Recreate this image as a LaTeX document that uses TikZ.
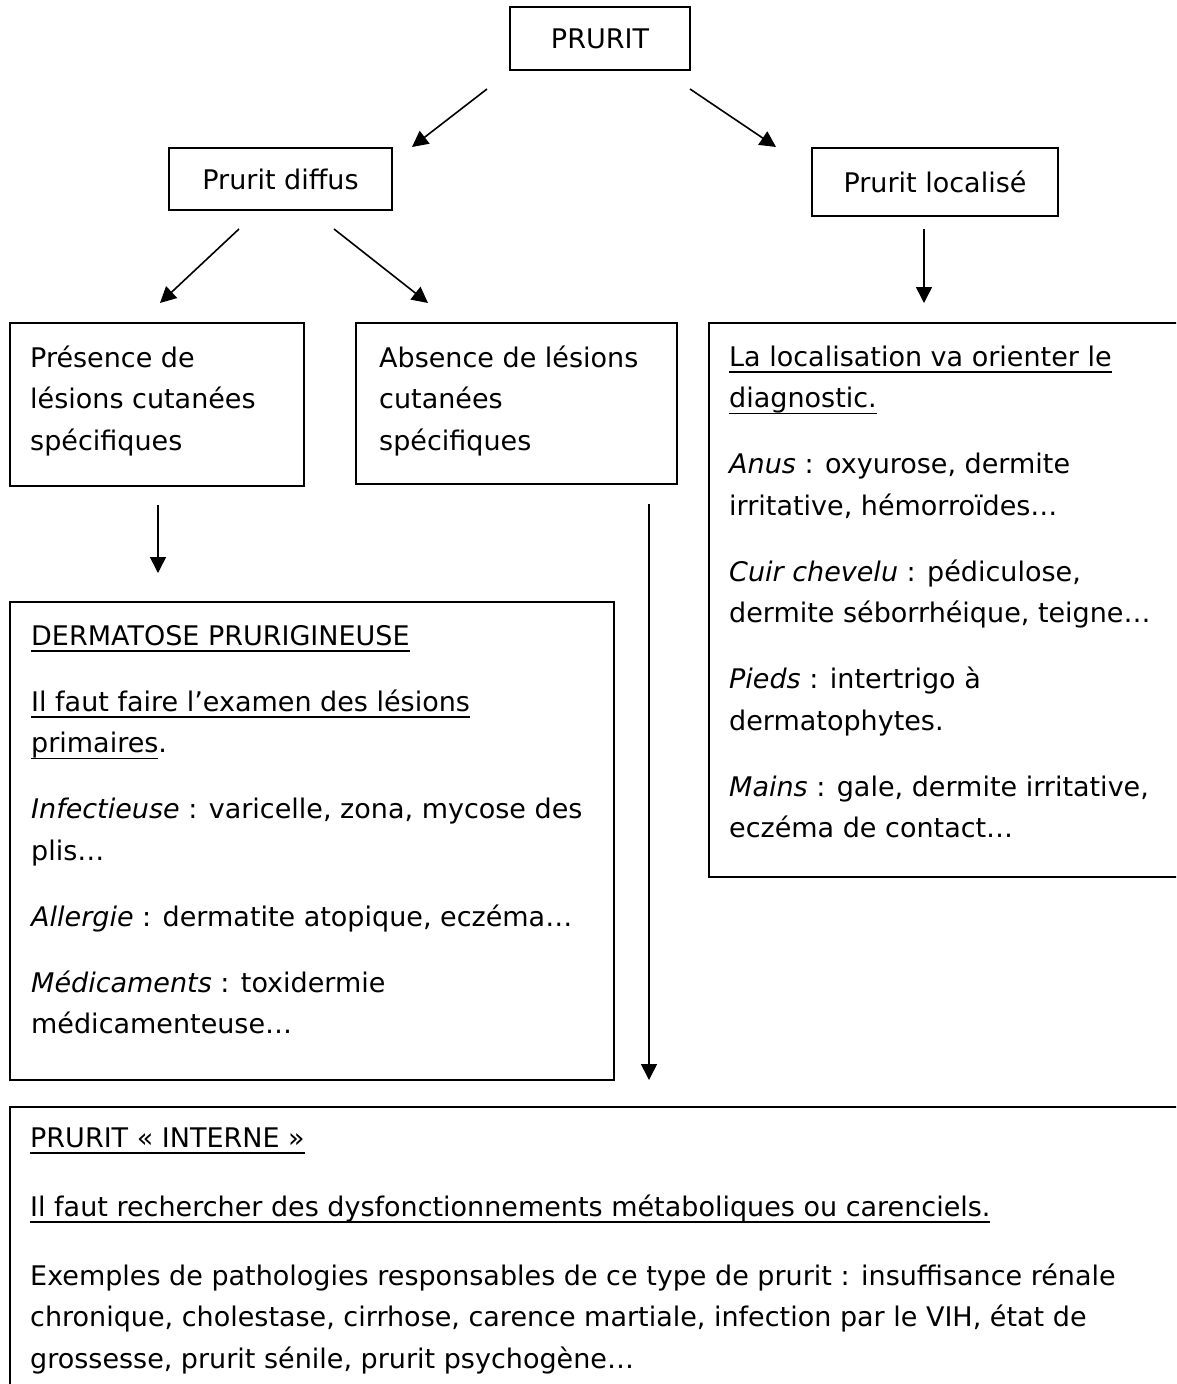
\documentclass[tikz,border=0pt]{standalone}
\usepackage{fontspec}
\setmainfont{DejaVu Sans}
\usetikzlibrary{arrows.meta}
\newsavebox{\myulbox}
\newcommand{\myul}[1]{\leavevmode\sbox{\myulbox}{#1}\rlap{\rule[-6.8pt]{\wd\myulbox}{1.8pt}}\usebox{\myulbox}}
\newcommand{\boxtext}[3]{\parbox[t]{#1}{\fontsize{27}{41.5}\selectfont\raggedright\setlength{\parskip}{#2}#3}}
\tikzset{
  framebox/.style={draw, line width=1.6pt, inner sep=0pt, font=\fontsize{27}{41.5}\selectfont},
  arr/.style={line width=1.6pt, -{Triangle[length=16pt,width=16pt]}},
  txt/.style={inner sep=0pt, anchor=base west}
}
\begin{document}
\begin{tikzpicture}[x=1pt,y=-1pt]
\clip (0,0) rectangle (1176,1384);
\fill[white] (0,0) rectangle (1176,1384);
% single-line boxes
\node[framebox, minimum width=180pt, minimum height=63pt] (prurit) at (600,38.5) {PRURIT};
\node[framebox, minimum width=223pt, minimum height=62pt] (diffus) at (280.5,179) {Prurit diffus};
\node[framebox, minimum width=246pt, minimum height=68pt] (local) at (935,182) {Prurit localisé};
% frames of text boxes
\node[framebox, minimum width=294pt, minimum height=163pt] (presence) at (157,404.5) {};
\node[framebox, minimum width=321pt, minimum height=161pt] (absence) at (516.5,403.5) {};
\node[framebox, minimum width=476pt, minimum height=554pt] (locbox) at (947,600) {};
\node[framebox, minimum width=604pt, minimum height=478pt] (derm) at (312,841) {};
\node[framebox, minimum width=1180pt, minimum height=300pt] (interne) at (600,1257) {};
% texts
\node[txt] (presencetxt) at (30,367) {\boxtext{270pt}{0pt}{Présence de\\lésions cutanées\\spécifiques}};
\node[txt] (absencetxt) at (379,367) {\boxtext{290pt}{0pt}{Absence de lésions\\cutanées\\spécifiques}};
\node[txt] (loctxt) at (729,366) {\boxtext{445pt}{24.5pt}{%
\myul{La localisation va orienter le}\\\myul{diagnostic.}\par
\textit{Anus} : oxyurose, dermite\\irritative, hémorroïdes…\par
\textit{Cuir chevelu} : pédiculose,\\dermite séborrhéique, teigne…\par
\textit{Pieds} : intertrigo à\\dermatophytes.\par
\textit{Mains} : gale, dermite irritative,\\eczéma de contact…}};
\node[txt] (dermtxt) at (31,645) {\boxtext{580pt}{24.5pt}{%
\myul{DERMATOSE PRURIGINEUSE}\par
\myul{Il faut faire l’examen des lésions}\\\myul{primaires}.\par
\textit{Infectieuse} : varicelle, zona, mycose des\\plis…\par
\textit{Allergie} : dermatite atopique, eczéma…\par
\textit{Médicaments} : toxidermie\\médicamenteuse…}};
\node[txt] (internetxt) at (30,1147) {\boxtext{1140pt}{27.5pt}{%
\myul{PRURIT « INTERNE »}\par
\myul{Il faut rechercher des dysfonctionnements métaboliques ou carenciels.}\par
Exemples de pathologies responsables de ce type de prurit : insuffisance rénale\\chronique, cholestase, cirrhose, carence martiale, infection par le VIH, état de\\grossesse, prurit sénile, prurit psychogène…}};
% arrow end points
\coordinate (a1s) at (487,89);   \coordinate (a1e) at (412,147);
\coordinate (a2s) at (690,89);   \coordinate (a2e) at (776,147);
\coordinate (a3s) at (239,229);  \coordinate (a3e) at (160,303);
\coordinate (a4s) at (334,229);  \coordinate (a4e) at (428,303);
\coordinate (a5s) at (924,229);  \coordinate (a5e) at (924,303);
\coordinate (a6s) at (158,505);  \coordinate (a6e) at (158,573);
\coordinate (a7s) at (649,504);  \coordinate (a7e) at (649,1080);
\draw[arr] (a1s) -- (a1e);
\draw[arr] (a2s) -- (a2e);
\draw[arr] (a3s) -- (a3e);
\draw[arr] (a4s) -- (a4e);
\draw[arr] (a5s) -- (a5e);
\draw[arr] (a6s) -- (a6e);
\draw[arr] (a7s) -- (a7e);
\end{tikzpicture}
\end{document}
